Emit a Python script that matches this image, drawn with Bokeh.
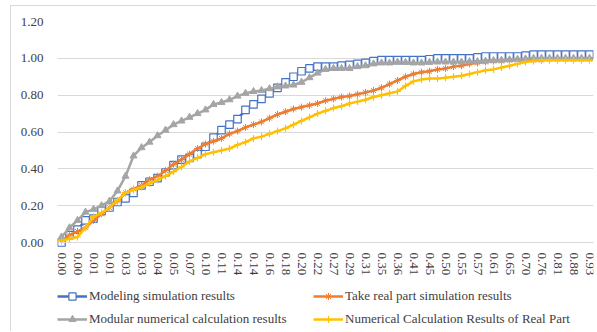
from bokeh.plotting import figure
from bokeh.models import (Range1d, FixedTicker, Legend, LegendItem,
                          ColumnDataSource, PrintfTickFormatter)
from bokeh.embed import file_html
from bokeh.resources import INLINE

# ---- data ----
x_labels = ["0.00", "0.00", "0.01", "0.01", "0.03", "0.03", "0.04", "0.05",
            "0.07", "0.10", "0.11", "0.14", "0.14", "0.16", "0.18", "0.20",
            "0.22", "0.27", "0.29", "0.31", "0.35", "0.36", "0.41", "0.45",
            "0.50", "0.55", "0.57", "0.61", "0.65", "0.70", "0.76", "0.81",
            "0.88", "0.93"]

modeling = [0.00, 0.04, 0.07, 0.12, 0.13, 0.17, 0.19, 0.22, 0.24, 0.27,
            0.31, 0.33, 0.35, 0.38, 0.42, 0.45, 0.46, 0.48, 0.52, 0.57,
            0.61, 0.64, 0.67, 0.72, 0.75, 0.78, 0.81, 0.84, 0.87, 0.90,
            0.93, 0.945, 0.955, 0.955, 0.955, 0.96, 0.965, 0.97, 0.975, 0.985,
            0.99, 0.99, 0.99, 0.99, 0.99, 0.99, 0.995, 1.0, 1.0, 1.0,
            1.0, 1.0, 1.005, 1.01, 1.01, 1.01, 1.01, 1.01, 1.015, 1.02,
            1.02, 1.02, 1.02, 1.02, 1.02, 1.02, 1.02]

take_real = [0.01, 0.04, 0.06, 0.08, 0.12, 0.155, 0.19, 0.225, 0.27, 0.29,
             0.31, 0.34, 0.36, 0.39, 0.425, 0.45, 0.48, 0.51, 0.535, 0.55,
             0.565, 0.59, 0.605, 0.625, 0.64, 0.655, 0.675, 0.695, 0.71, 0.725,
             0.735, 0.745, 0.755, 0.77, 0.78, 0.79, 0.795, 0.805, 0.815, 0.825,
             0.84, 0.86, 0.88, 0.90, 0.915, 0.925, 0.93, 0.94, 0.945, 0.955,
             0.96, 0.97, 0.975, 0.98, 0.985, 0.985, 0.99, 0.99, 0.99, 0.99,
             0.99, 0.995, 0.995, 0.995, 0.995, 0.995, 0.995]

modular = [0.03, 0.08, 0.12, 0.165, 0.18, 0.20, 0.225, 0.28, 0.36, 0.47,
           0.515, 0.545, 0.58, 0.61, 0.64, 0.66, 0.68, 0.70, 0.72, 0.75,
           0.76, 0.775, 0.795, 0.81, 0.82, 0.825, 0.835, 0.845, 0.85, 0.855,
           0.87, 0.895, 0.92, 0.94, 0.945, 0.945, 0.945, 0.955, 0.96, 0.97,
           0.975, 0.975, 0.98, 0.978, 0.975, 0.975, 0.978, 0.98, 0.98, 0.98,
           0.98, 0.982, 0.983, 0.985, 0.988, 0.99, 0.992, 0.995, 0.997, 1.0,
           1.0, 1.0, 1.0, 1.0, 1.0, 1.0, 1.0]

numerical = [0.01, 0.02, 0.03, 0.08, 0.14, 0.16, 0.19, 0.23, 0.27, 0.285,
             0.30, 0.32, 0.34, 0.36, 0.385, 0.41, 0.44, 0.46, 0.48, 0.49,
             0.50, 0.51, 0.53, 0.545, 0.565, 0.575, 0.59, 0.605, 0.62, 0.64,
             0.66, 0.68, 0.70, 0.715, 0.73, 0.74, 0.755, 0.765, 0.775, 0.79,
             0.80, 0.81, 0.82, 0.85, 0.875, 0.885, 0.89, 0.89, 0.895, 0.90,
             0.905, 0.915, 0.925, 0.935, 0.94, 0.95, 0.96, 0.97, 0.98, 0.985,
             0.99, 0.99, 0.99, 0.99, 0.99, 0.99, 0.99]

series_names = ["Modeling simulation results",
                "Take real part simulation results",
                "Modular numerical calculation results",
                "Numerical Calculation Results of Real Part"]
y_ticks = [0.0, 0.2, 0.4, 0.6, 0.8, 1.0, 1.2]

# ---- styling / layout ----
BLUE, ORANGE, GRAY, YELLOW = "#4472C4", "#ED7D31", "#A5A5A5", "#FFC000"
FONT = "Liberation Serif"
TXT = "#404040"

W, H = 586, 326           # canvas (placed 10px/5px in, with a 1px top/left border)
TOP, LEFT, RIGHT = 15, 46, 4
AXIS_PX = 221             # pixels from value 0 to value 1.2
below_px = H - TOP - AXIS_PX   # room under the value axis for labels + legend
y_min = -1.2 * below_px / AXIS_PX

n = len(modeling)
label_step = 2
src = ColumnDataSource(dict(x=list(range(n)), modeling=modeling,
                            take_real=take_real, modular=modular,
                            numerical=numerical))

p = figure(width=W, height=H, output_backend="svg", toolbar_location=None,
           x_range=Range1d(-0.5, n - 0.5), y_range=Range1d(y_min, 1.2),
           min_border_top=TOP, min_border_bottom=0, min_border_left=LEFT,
           min_border_right=RIGHT, outline_line_color=None,
           background_fill_color="white", border_fill_color="white")
p.styles = {"margin-left": "10px", "margin-top": "5px",
            "border-top": "1px solid #d9d9d9",
            "border-left": "1px solid #d9d9d9"}

specs = [("modeling", BLUE, dict(marker="square", size=7.5, fill_color="white",
                                 line_color=BLUE, line_width=1.2)),
         ("take_real", ORANGE, dict(marker="asterisk", size=7,
                                    line_color=ORANGE, line_width=1)),
         ("modular", GRAY, dict(marker="triangle", size=7, fill_color=GRAY,
                                line_color=GRAY)),
         ("numerical", YELLOW, dict(marker="cross", size=7,
                                    line_color=YELLOW, line_width=1.2))]

items = []
for (col, color, mk), name in zip(specs, series_names):
    rl = p.line("x", col, source=src, line_color=color, line_width=2.5)
    rm = p.scatter("x", col, source=src, **mk)
    items.append(LegendItem(label=name, renderers=[rl, rm]))

# axes
p.xgrid.visible = False
p.ygrid.grid_line_color = "#d9d9d9"
p.ygrid.grid_line_width = 1

ya = p.yaxis[0]
ya.ticker = FixedTicker(ticks=y_ticks)
ya.formatter = PrintfTickFormatter(format="%.2f")
ya.axis_line_color = None
ya.major_tick_line_color = None
ya.minor_tick_line_color = None
ya.major_tick_out = 0
ya.major_label_standoff = 14
ya.major_label_text_font = FONT
ya.major_label_text_font_size = "13px"
ya.major_label_text_color = TXT

xa = p.xaxis[0]
tick_pos = list(range(0, n, label_step))
xa.ticker = FixedTicker(ticks=tick_pos)
xa.major_label_overrides = {t: lab for t, lab in zip(tick_pos, x_labels)}
xa.major_label_orientation = "vertical"
xa.fixed_location = 0
xa.axis_line_color = "#d9d9d9"
xa.major_tick_line_color = None
xa.minor_tick_line_color = None
xa.major_tick_out = 0
xa.major_label_standoff = 10
xa.major_label_text_font = FONT
xa.major_label_text_font_size = "13px"
xa.major_label_text_color = TXT

legend = Legend(items=items, location=(0, 4), orientation="horizontal",
                ncols=2, glyph_width=30, glyph_height=18, label_height=18,
                label_width=219, spacing=5, padding=0, margin=0,
                label_standoff=2, border_line_alpha=0,
                background_fill_alpha=0, label_text_font=FONT,
                label_text_font_size="13px", label_text_color=TXT)
p.add_layout(legend, "center")

open("out.html", "w").write(file_html(p, INLINE))
